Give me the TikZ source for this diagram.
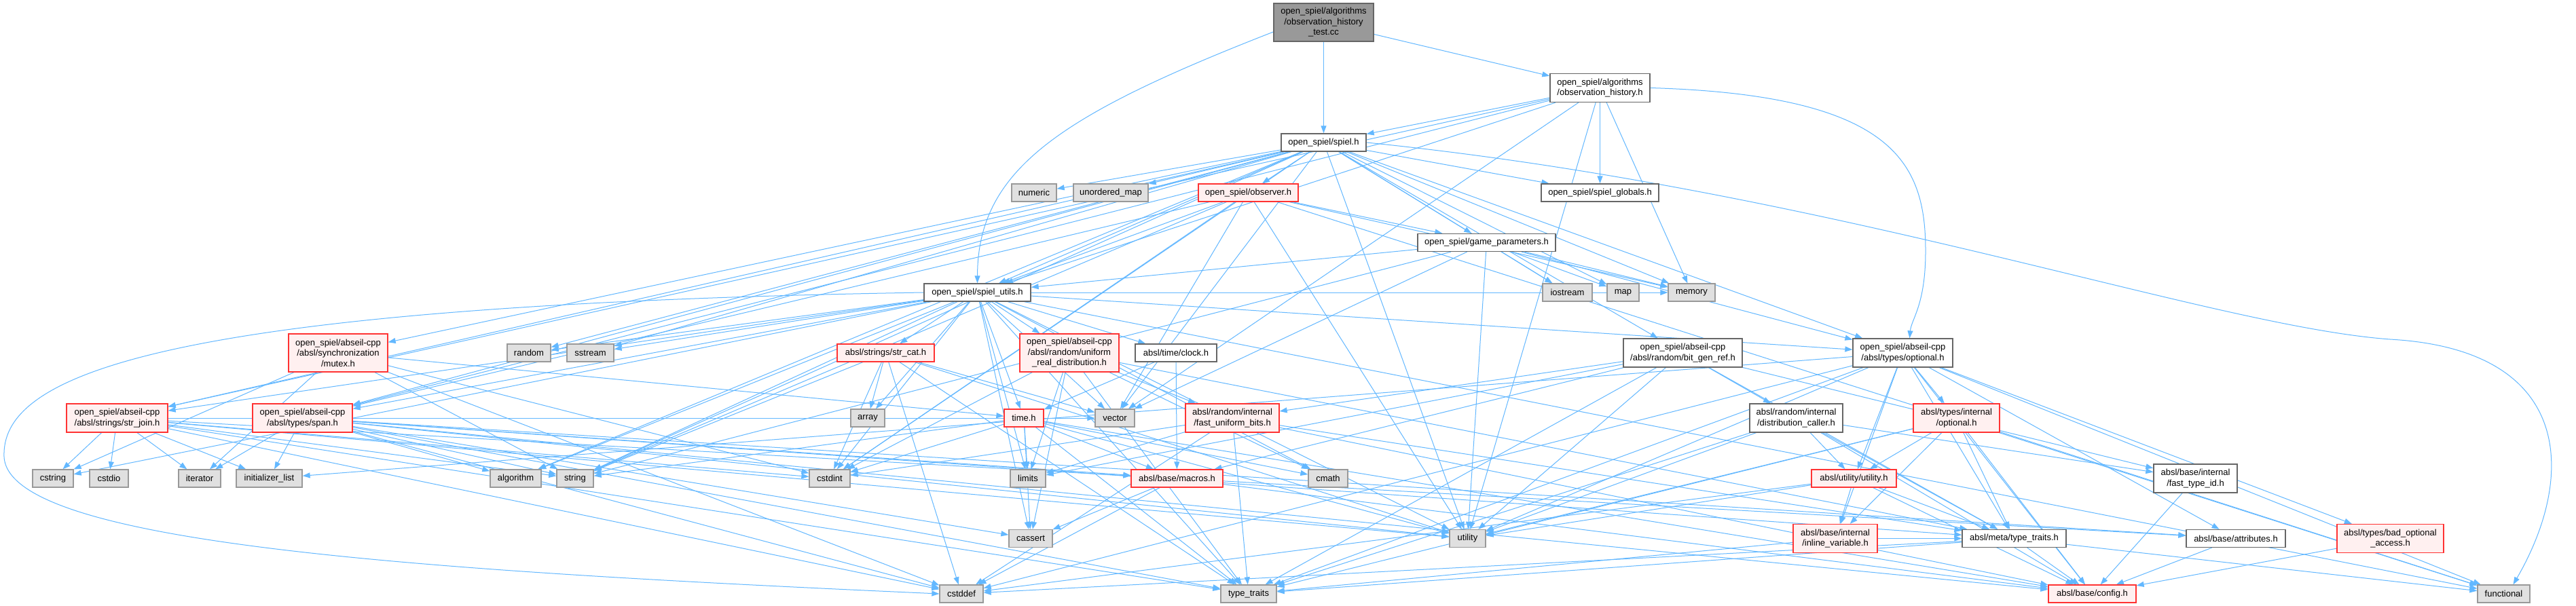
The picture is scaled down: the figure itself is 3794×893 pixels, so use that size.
\documentclass[tikz,border=0pt]{standalone}
\usepackage{fontspec}
\setmainfont{Liberation Sans}
\usetikzlibrary{arrows.meta, backgrounds}

\definecolor{edgeblue}{HTML}{63B8FF}
\definecolor{leafgray}{HTML}{E0E0E0}
\definecolor{leafline}{HTML}{999999}
\definecolor{nodeline}{HTML}{666666}
\definecolor{truncfill}{HTML}{FFF0F0}
\definecolor{truncline}{HTML}{FF3333}

\begin{document}
\begin{tikzpicture}[
    x=1pt, y=-1pt,
    >={Triangle[length=11pt,width=8pt]},
    box/.style={
        rectangle, draw, line width=1.3pt, inner sep=2pt, align=center,
        minimum height=26pt, font=\fontsize{13}{15.5}\selectfont
    },
    srcfile/.style={box, fill=leafline, draw=nodeline},
    hdr/.style={box, fill=white, draw=nodeline},
    trunc/.style={box, fill=truncfill, draw=truncline},
    sys/.style={box, fill=leafgray, draw=leafline},
    two/.style={minimum height=42pt},
    three/.style={minimum height=56pt},
    route/.style={line width=1pt, edgeblue},
    arr/.style={route, ->},
]

\useasboundingbox (0,0) rectangle (3794,893);

% Top: the test file and the headers it pulls in
\node[srcfile, three, minimum width=147pt] (root) at (1949.5,33) {open\_spiel/algorithms\\/observation\_history\\\_test.cc};
\node[hdr, two, minimum width=147pt] (obshist) at (2356.5,129.5) {open\_spiel/algorithms\\/observation\_history.h};
\node[hdr, minimum width=125pt] (spiel) at (1949.5,210) {open\_spiel/spiel.h};

% Second row
\node[sys, minimum width=66pt] (numeric) at (1523,284) {numeric};
\node[sys, minimum width=110pt] (umap) at (1636,284) {unordered\_map};
\node[trunc, minimum width=147pt] (observer) at (1838.5,284) {open\_spiel/observer.h};
\node[hdr, minimum width=173pt] (globals) at (2356.5,284) {open\_spiel/spiel\_globals.h};
\node[hdr, minimum width=203pt] (gameparams) at (2189.5,357.5) {open\_spiel/game\_parameters.h};

% Third row
\node[hdr, minimum width=157pt] (utils) at (1439.5,431) {open\_spiel/spiel\_utils.h};
\node[sys, minimum width=73pt] (iostream) at (2308.5,431) {iostream};
\node[sys, minimum width=47pt] (map) at (2390.5,431) {map};
\node[sys, minimum width=69pt] (memory) at (2491.5,431) {memory};

% Fourth row
\node[trunc, three, minimum width=146pt] (mutex) at (498,520) {open\_spiel/abseil-cpp\\/absl/synchronization\\/mutex.h};
\node[sys, minimum width=64pt] (random) at (779,520) {random};
\node[sys, minimum width=69pt] (sstream) at (869.5,520) {sstream};
\node[trunc, minimum width=143pt] (strcat) at (1304.5,520) {absl/strings/str\_cat.h};
\node[trunc, three, minimum width=146pt] (uniform) at (1575,520) {open\_spiel/abseil-cpp\\/absl/random/uniform\\\_real\_distribution.h};
\node[hdr, minimum width=120pt] (clock) at (1732,520) {absl/time/clock.h};
\node[hdr, two, minimum width=175pt] (bitgen) at (2478.5,520) {open\_spiel/abseil-cpp\\/absl/random/bit\_gen\_ref.h};
\node[hdr, two, minimum width=147pt] (optional) at (2802.5,520) {open\_spiel/abseil-cpp\\/absl/types/optional.h};

% Fifth row
\node[trunc, two, minimum width=149pt] (strjoin) at (172.5,616) {open\_spiel/abseil-cpp\\/absl/strings/str\_join.h};
\node[trunc, two, minimum width=147pt] (span) at (445.5,616) {open\_spiel/abseil-cpp\\/absl/types/span.h};
\node[sys, minimum width=50pt] (array) at (1278,616) {array};
\node[trunc, minimum width=58pt] (timeh) at (1508,616) {time.h};
\node[sys, minimum width=58pt] (vector) at (1642,616) {vector};
\node[trunc, two, minimum width=138pt] (fastbits) at (1815,616) {absl/random/internal\\/fast\_uniform\_bits.h};
\node[hdr, two, minimum width=137pt] (distcaller) at (2645.5,616) {absl/random/internal\\/distribution\_caller.h};
\node[trunc, two, minimum width=127pt] (intoptional) at (2881.5,616) {absl/types/internal\\/optional.h};

% Sixth row
\node[sys, minimum width=60pt] (cstring) at (78,705) {cstring};
\node[sys, minimum width=57pt] (cstdio) at (160.5,705) {cstdio};
\node[sys, minimum width=62pt] (iterator) at (294,705) {iterator};
\node[sys, minimum width=97pt] (initlist) at (396.5,705) {initializer\_list};
\node[sys, minimum width=75pt] (algorithm) at (759.5,705) {algorithm};
\node[sys, minimum width=54pt] (string) at (847,705) {string};
\node[sys, minimum width=60pt] (cstdint) at (1222,705) {cstdint};
\node[sys, minimum width=52pt] (limits) at (1514,705) {limits};
\node[trunc, minimum width=135pt] (macros) at (1733.5,705) {absl/base/macros.h};
\node[sys, minimum width=58pt] (cmath) at (1956,705) {cmath};
\node[trunc, minimum width=125pt] (utilityh) at (2730.5,705) {absl/utility/utility.h};
\node[hdr, two, minimum width=123pt] (fasttypeid) at (3233.5,705) {absl/base/internal\\/fast\_type\_id.h};

% Seventh row
\node[sys, minimum width=64pt] (cassert) at (1518,793.5) {cassert};
\node[sys, minimum width=53pt] (utility) at (2161.5,793.5) {utility};
\node[trunc, two, minimum width=124pt] (inlinevar) at (2703,793.5) {absl/base/internal\\/inline\_variable.h};
\node[hdr, minimum width=153pt] (metatraits) at (2966.5,793.5) {absl/meta/type\_traits.h};
\node[hdr, minimum width=146pt] (attributes) at (3293,793.5) {absl/base/attributes.h};
\node[trunc, two, minimum width=157pt] (badopt) at (3520.5,793.5) {absl/types/bad\_optional\\\_access.h};

% Bottom row
\node[sys, minimum width=64pt] (cstddef) at (1416,875) {cstddef};
\node[sys, minimum width=82pt] (typetraits) at (1839,875) {type\_traits};
\node[trunc, minimum width=129pt] (config) at (3081.5,875) {absl/base/config.h};
\node[sys, minimum width=77pt] (functional) at (3687.5,875) {functional};

\begin{scope}[on background layer]
\fill[white] (0,0) rectangle (3794,893);

% Test file
\draw[arr] (root) -- (obshist); \draw[arr] (root) -- (spiel);
\draw[arr] ([yshift=-14pt]root.west) .. controls (1560,170) and (1440,250) .. (utils.north);

% observation_history.h
\draw[arr] (obshist) -- (spiel); \draw[arr] (obshist) -- (globals); \draw[arr] (obshist) -- (utils);
\draw[arr] (obshist) -- (memory); \draw[arr] (obshist) -- (strjoin);
\draw[arr] (obshist) -- (span); \draw[arr] (obshist) -- (vector); \draw[arr] (obshist) -- (utility);
\draw[arr] (obshist.east) .. controls (2790,140) and (2836,240) .. (2836,370)
    .. controls (2836,450) and (2815,470) .. ([xshift=10pt]optional.north);

% spiel.h
\draw[arr] (spiel) -- (numeric); \draw[arr] (spiel) -- (umap); \draw[arr] (spiel) -- (observer);
\draw[arr] (spiel) -- (globals); \draw[arr] (spiel) -- (gameparams); \draw[arr] (spiel) -- (iostream);
\draw[arr] (spiel) -- (map); \draw[arr] (spiel) -- (memory); \draw[arr] (spiel) -- (utils);
\draw[arr] (spiel) -- (mutex); \draw[arr] (spiel) -- (random); \draw[arr] (spiel) -- (sstream);
\draw[arr] (spiel) -- (strjoin); \draw[arr] (spiel) -- (span); \draw[arr] (spiel) -- (algorithm);
\draw[arr] (spiel) -- (string); \draw[arr] (spiel) -- (cstdint); \draw[arr] (spiel) -- (utility);
\draw[arr] (spiel) -- (vector); \draw[arr] (spiel) -- (bitgen); \draw[arr] (spiel) -- (optional);
\draw[arr] (spiel.east) .. controls (2700,280) and (3250,480) .. (3520,500)
    .. controls (3790,515) and (3795,700) .. ([xshift=14pt]functional.north);

% observer.h
\draw[arr] (observer) -- (utils); \draw[arr] (observer) -- (gameparams); \draw[arr] (observer) -- (span);
\draw[arr] (observer) -- (memory); \draw[arr] (observer) -- (string); \draw[arr] (observer) -- (vector);
\draw[arr] (observer) -- (utility); \draw[arr] (observer) -- (functional); \draw[arr] (observer) -- (cstdint);

% game_parameters.h
\draw[arr] (gameparams) -- (iostream); \draw[arr] (gameparams) -- (map); \draw[arr] (gameparams) -- (memory);
\draw[arr] (gameparams) -- (utils); \draw[arr] (gameparams) -- (string); \draw[arr] (gameparams) -- (vector);
\draw[arr] (gameparams) -- (utility); \draw[arr] (gameparams) -- (optional);

% spiel_utils.h
\draw[arr] (utils) -- (algorithm); \draw[arr] (utils) -- (cassert);
\draw[arr] (utils) -- (cstdint); \draw[arr] (utils) -- (functional); \draw[arr] (utils) -- (memory);
\draw[arr] (utils) -- (random); \draw[arr] (utils) -- (sstream); \draw[arr] (utils) -- (string);
\draw[arr] (utils) -- (typetraits); \draw[arr] (utils) -- (utility); \draw[arr] (utils) -- (vector);
\draw[arr] (utils) -- (strcat); \draw[arr] (utils) -- (strjoin); \draw[arr] (utils) -- (span);
\draw[arr] (utils) -- (uniform); \draw[arr] (utils) -- (clock); \draw[arr] (utils) -- (timeh);
\draw[arr] (utils) -- (optional); \draw[arr] (utils) -- (cmath); \draw[arr] (utils) -- (array);
\draw[arr] (utils) -- (limits); \draw[arr] (utils) -- (cstring);
\draw[arr] (utils.west) .. controls (200,450) and (2,560) .. (6,673)
    .. controls (12,800) and (600,840) .. (cstddef.west);

% mutex.h
\draw[arr] (mutex) -- (iterator); \draw[arr] (mutex) -- (string); \draw[arr] (mutex) -- (cstdint);
\draw[arr] (mutex) -- (cstddef); \draw[arr] (mutex) -- (timeh); \draw[arr] (mutex) -- (cstring);

% str_join.h
\draw[arr] (strjoin) -- (cstring); \draw[arr] (strjoin) -- (cstdio); \draw[arr] (strjoin) -- (iterator);
\draw[arr] (strjoin) -- (initlist); \draw[arr] (strjoin) -- (string); \draw[arr] (strjoin) -- (typetraits);
\draw[arr] (strjoin) -- (utility); \draw[arr] (strjoin) -- (vector); \draw[arr] (strjoin) -- (macros);
\draw[arr] (strjoin) -- (cstdint); \draw[arr] (strjoin) -- (cstddef);

% span.h
\draw[arr] (span) -- (algorithm); \draw[arr] (span) -- (cassert); \draw[arr] (span) -- (cstddef);
\draw[arr] (span) -- (initlist); \draw[arr] (span) -- (iterator); \draw[arr] (span) -- (typetraits);
\draw[arr] (span) -- (utility); \draw[arr] (span) -- (string); \draw[arr] (span) -- (macros);
\draw[arr] (span) -- (config); \draw[arr] (span) -- (attributes); \draw[arr] (span) -- (metatraits);

% str_cat.h
\draw[arr] (strcat) -- (array); \draw[arr] (strcat) -- (cstdint); \draw[arr] (strcat) -- (string);
\draw[arr] (strcat) -- (typetraits); \draw[arr] (strcat) -- (utility); \draw[arr] (strcat) -- (vector);
\draw[arr] (strcat) -- (cstddef);

% uniform_real_distribution.h
\draw[arr] (uniform) -- (cassert); \draw[arr] (uniform) -- (cmath); \draw[arr] (uniform) -- (cstdint);
\draw[arr] (uniform) -- (limits); \draw[arr] (uniform) -- (typetraits); \draw[arr] (uniform) -- (fastbits);
\draw[arr] (uniform) -- (metatraits);

% clock.h and time.h
\draw[arr] (clock) -- (macros); \draw[arr] (clock) -- (timeh);
\draw[arr] (timeh) -- (cmath); \draw[arr] (timeh) -- (cstdint); \draw[arr] (timeh) -- (limits);
\draw[arr] (timeh) -- (string); \draw[arr] (timeh) -- (typetraits); \draw[arr] (timeh) -- (utility);
\draw[arr] (timeh) -- (macros); \draw[arr] (timeh) -- (cassert); \draw[arr] (timeh) -- (config);

% fast_uniform_bits.h and macros.h
\draw[arr] (fastbits) -- (cstddef); \draw[arr] (fastbits) -- (cstdint); \draw[arr] (fastbits) -- (limits);
\draw[arr] (fastbits) -- (typetraits); \draw[arr] (fastbits) -- (config); \draw[arr] (fastbits) -- (metatraits);
\draw[arr] (macros) -- (cassert); \draw[arr] (macros) -- (cstddef); \draw[arr] (macros) -- (attributes);
\draw[arr] (macros) -- (config);

% bit_gen_ref.h and distribution_caller.h
\draw[arr] (bitgen) -- (limits); \draw[arr] (bitgen) -- (typetraits); \draw[arr] (bitgen) -- (utility);
\draw[arr] (bitgen) -- (fasttypeid); \draw[arr] (bitgen) -- (macros); \draw[arr] (bitgen) -- (metatraits);
\draw[arr] (bitgen) -- (distcaller); \draw[arr] (bitgen) -- (fastbits);
\draw[arr] (distcaller) -- (utility); \draw[arr] (distcaller) -- (typetraits); \draw[arr] (distcaller) -- (config);
\draw[arr] (distcaller) -- (fasttypeid); \draw[arr] (distcaller) -- (utilityh); \draw[arr] (distcaller) -- (metatraits);

% optional.h
\draw[arr] (optional) -- (config); \draw[arr] (optional) -- (utilityh); \draw[arr] (optional) -- (functional);
\draw[arr] (optional) -- (initlist); \draw[arr] (optional) -- (typetraits); \draw[arr] (optional) -- (utility);
\draw[arr] (optional) -- (attributes); \draw[arr] (optional) -- (inlinevar); \draw[arr] (optional) -- (metatraits);
\draw[arr] (optional) -- (badopt); \draw[arr] (optional) -- (intoptional); \draw[arr] (optional) -- (cstddef);

% internal/optional.h and utility.h
\draw[arr] (intoptional) -- (functional); \draw[arr] (intoptional) -- (typetraits); \draw[arr] (intoptional) -- (utility);
\draw[arr] (intoptional) -- (config); \draw[arr] (intoptional) -- (inlinevar); \draw[arr] (intoptional) -- (metatraits);
\draw[arr] (intoptional) -- (utilityh);
\draw[arr] (utilityh) -- (cstddef); \draw[arr] (utilityh) -- (utility); \draw[arr] (utilityh) -- (config);
\draw[arr] (utilityh) -- (inlinevar); \draw[arr] (utilityh) -- (metatraits);

% Bottom headers
\draw[arr] (inlinevar) -- (typetraits); \draw[arr] (inlinevar) -- (metatraits);
\draw[arr] (fasttypeid) -- (config);
\draw[arr] (metatraits) -- (cstddef); \draw[arr] (metatraits) -- (functional); \draw[arr] (metatraits) -- (typetraits);
\draw[arr] (metatraits) -- (config);
\draw[arr] (attributes) -- (config);
\draw[arr] (badopt) -- (config);
\end{scope}

\end{tikzpicture}
\end{document}
